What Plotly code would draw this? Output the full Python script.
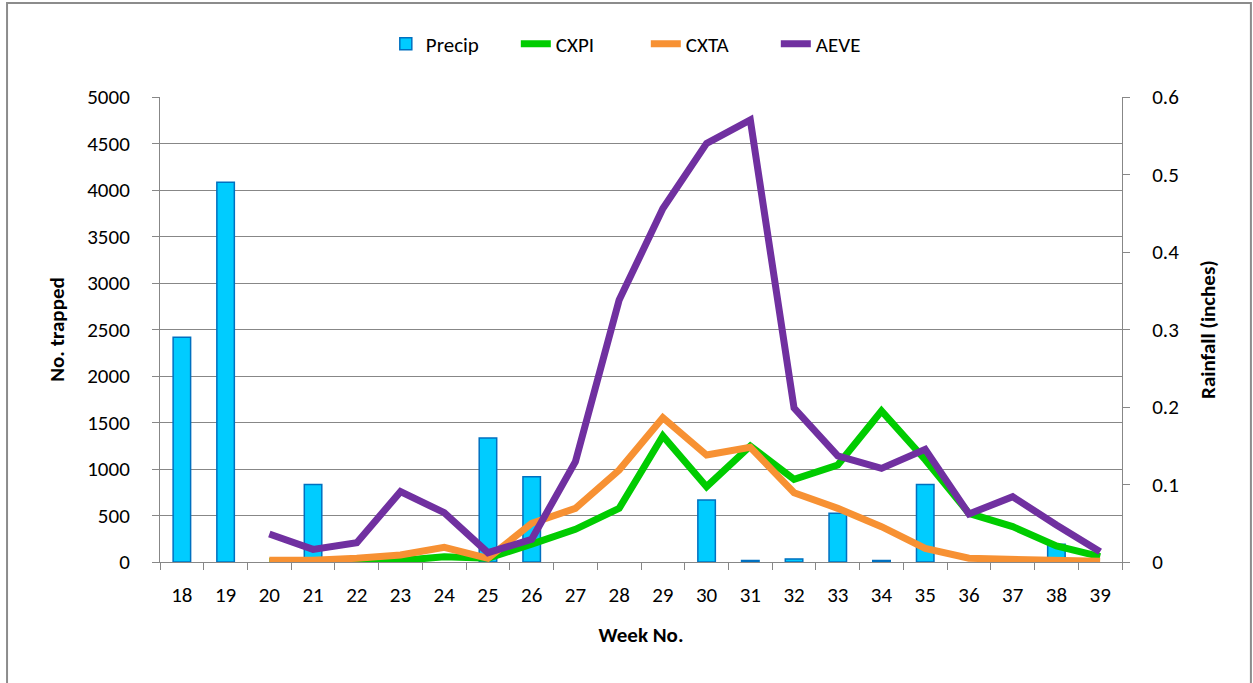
import plotly.graph_objects as go

weeks = [str(w) for w in range(18, 40)]

# rainfall (inches), right axis; None = no bar
precip = [0.29, 0.49, None, 0.10, None, None, None, 0.16, 0.11, None, None, None,
          0.08, 0.002, 0.004, 0.063, 0.002, 0.10, None, None, 0.023, None]

# number trapped, left axis
cxpi = [None, None, 5, 5, 5, 15, 57, 40, 193, 351, 577, 1355,
        810, 1247, 889, 1043, 1624, 1100, 523, 380, 172, 57]
cxta = [None, None, 20, 20, 40, 75, 158, 40, 416, 577, 989, 1552,
        1150, 1233, 745, 577, 380, 147, 40, 29, 14, 7]
aeve = [None, None, 301, 136, 208, 756, 530, 100, 244, 1079, 2817, 3800,
        4502, 4753, 1656, 1140, 1007, 1211, 516, 702, 398, 111]

FONT = "Carlito, Lato, sans-serif"
GRID = "#878787"

fig = go.Figure()

fig.add_trace(go.Bar(
    x=weeks, y=precip, name="Precip", yaxis="y",
    marker=dict(color="#00CCFF", line=dict(color="#0070C0", width=1.5)),
))
for name, vals, col in [("CXPI", cxpi, "#00CC00"),
                        ("CXTA", cxta, "#F79133"),
                        ("AEVE", aeve, "#7030A0")]:
    fig.add_trace(go.Scatter(
        x=weeks, y=vals, name=name, mode="lines", yaxis="y2",
        line=dict(color=col, width=7),
    ))

fig.update_layout(
    width=1253, height=683,
    margin=dict(l=160, r=131, t=97, b=121),
    paper_bgcolor="white", plot_bgcolor="white",
    font=dict(family=FONT, size=21, color="black"),
    bargap=0.6,
    legend=dict(orientation="h", x=0.505, xanchor="center", y=1.114, yanchor="middle",
                font=dict(size=21), traceorder="normal", itemwidth=30,
                entrywidth=85, entrywidthmode="pixels"),
    xaxis=dict(type="category", tickson="boundaries", ticks="outside", ticklen=7,
               tickcolor=GRID, showline=True, linecolor=GRID, linewidth=1,
               showgrid=False, ticklabelstandoff=14,
               title=dict(text="<b>Week No.</b>", standoff=20, font=dict(size=21))),
    yaxis=dict(side="right", range=[0, 0.6], dtick=0.1, showgrid=False,
               ticks="outside", ticklen=7, tickcolor=GRID, showline=True,
               linecolor=GRID, linewidth=1, ticklabelstandoff=18, zeroline=False,
               title=dict(text="<b>Rainfall (inches)</b>", standoff=22, font=dict(size=21))),
    yaxis2=dict(side="left", overlaying="y", range=[0, 5000], dtick=500,
                showgrid=True, gridcolor=GRID, gridwidth=1, zeroline=False,
                ticks="outside", ticklen=7, tickcolor=GRID, showline=True,
                linecolor=GRID, linewidth=1, ticklabelstandoff=18,
                title=dict(text="<b>No. trapped</b>", standoff=16, font=dict(size=21))),
    shapes=[dict(type="rect", xref="paper", yref="paper",
                 x0=-0.159, x1=1.134, y0=-0.3, y1=1.202,
                 line=dict(color="#8c8c8c", width=2), layer="below")],
)

# drop the default body margin so the figure fills the window exactly
fig.write_html("out.html", config={"displayModeBar": False},
               post_script="document.body.style.margin='0px';")
